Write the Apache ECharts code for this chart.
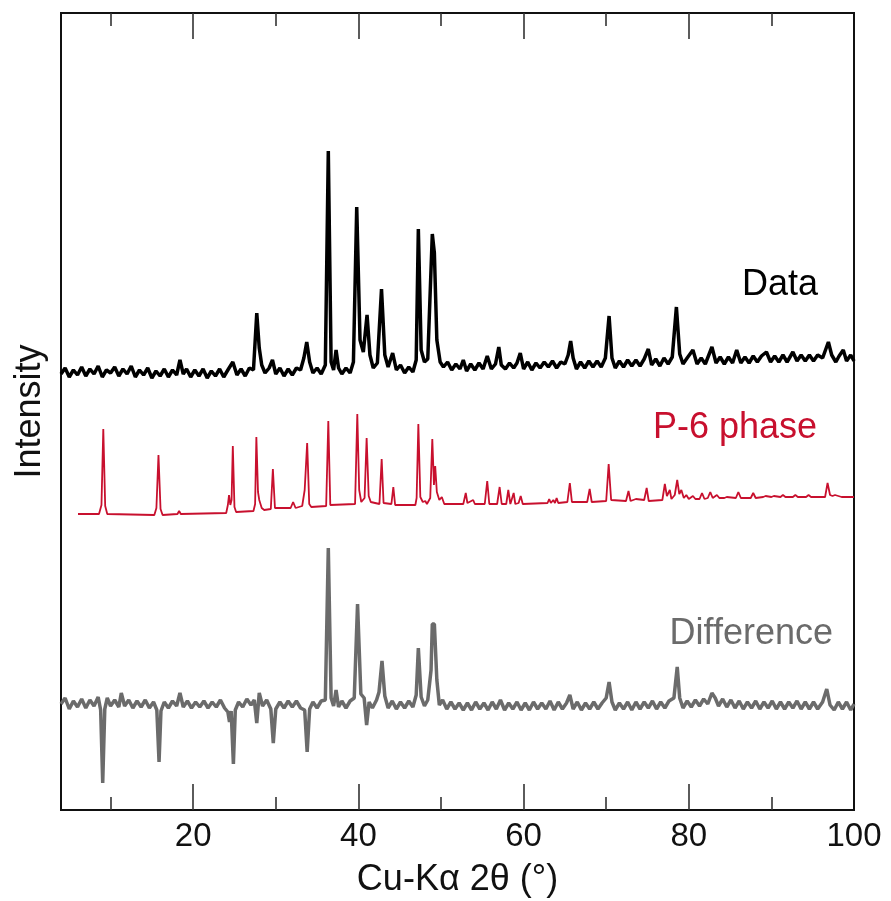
<!DOCTYPE html>
<html>
<head>
<meta charset="utf-8">
<title>XRD pattern</title>
<script src="https://cdn.jsdelivr.net/npm/echarts@6/dist/echarts.min.js"></script>
<style>
  html, body { margin: 0; padding: 0; background: #fff; }
  #chart { width: 891px; height: 901px; }
</style>
</head>
<body>
<div id="chart"></div>
<script>
// 2theta (deg), intensity (arbitrary, traces already offset)
var dataTrace = [
  [4.0,436],[4.5,442],[5.0,433],[5.5,440],[6.0,435],[6.5,443],[7.0,434],[7.5,441],[8.0,436],[8.5,444],
  [9.0,433],[9.5,440],[10.0,437],[10.5,443],[11.0,434],[11.5,441],[12.0,436],[12.5,444],[13.0,433],[13.5,440],
  [14.0,435],[14.5,442],[15.0,432],[15.5,439],[16.0,434],[16.5,441],[17.0,433],[17.5,440],[18.0,435],[18.4,450],
  [18.8,436],[19.2,441],[19.7,433],[20.2,440],[20.7,434],[21.2,441],[21.7,432],[22.2,439],[22.7,434],[23.2,441],
  [23.7,433],[24.2,440],[24.8,448],[25.3,435],[25.8,441],[26.3,434],[26.8,442],[27.3,440],[27.7,497],[28.0,462],
  [28.3,445],[28.7,437],[29.2,442],[29.6,450],[30.0,436],[30.5,442],[31.0,434],[31.5,441],[32.0,435],[32.5,442],
  [33.0,440],[33.4,452],[33.75,468],[34.1,448],[34.5,437],[35.0,442],[35.5,436],[36.0,445],[36.36,659],[36.7,448],
  [37.0,440],[37.3,460],[37.6,442],[38.0,436],[38.5,442],[39.0,437],[39.4,448],[39.8,603],[40.2,470],[40.6,458],
  [41.05,495],[41.4,455],[41.8,442],[42.3,447],[42.8,521],[43.2,455],[43.6,443],[44.15,457],[44.6,440],[45.1,445],
  [45.6,437],[46.1,443],[46.6,438],[47.0,450],[47.26,581],[47.6,460],[48.0,448],[48.4,451],[48.95,576],[49.2,557],
  [49.5,470],[49.9,448],[50.3,443],[50.8,448],[51.3,440],[51.8,446],[52.3,441],[52.7,450],[53.1,439],[53.6,446],
  [54.1,440],[54.6,447],[55.1,441],[55.6,454],[56.1,441],[56.6,446],[57.0,463],[57.3,445],[57.8,441],[58.3,447],
  [58.8,442],[59.2,447],[59.6,457],[60.0,441],[60.5,448],[61.0,440],[61.5,447],[62.0,442],[62.5,448],[63.0,443],
  [63.5,449],[64.0,442],[64.5,448],[65.0,446],[65.4,455],[65.7,469],[66.0,452],[66.4,441],[66.9,448],[67.4,442],
  [67.9,449],[68.4,443],[68.9,449],[69.4,443],[69.9,452],[70.35,494],[70.7,452],[71.1,442],[71.6,449],[72.1,443],
  [72.6,450],[73.1,444],[73.6,450],[74.1,444],[74.6,451],[75.1,461],[75.5,445],[76.0,451],[76.5,444],[77.0,452],
  [77.5,446],[78.0,453],[78.5,503],[78.9,456],[79.3,446],[79.8,452],[80.5,460],[81.0,446],[81.5,452],[82.0,446],
  [82.8,463],[83.3,447],[83.8,453],[84.3,446],[84.8,453],[85.3,447],[85.8,460],[86.3,447],[86.8,453],[87.3,447],
  [87.8,454],[88.3,448],[88.8,454],[89.4,458],[89.9,448],[90.4,454],[90.9,448],[91.4,455],[91.9,448],[92.6,458],
  [93.1,449],[93.6,455],[94.1,449],[94.6,455],[95.1,449],[95.6,455],[96.2,452],[96.9,468],[97.3,455],[97.8,448],
  [98.2,454],[98.7,460],[99.1,449],[99.6,455],[100,449]
];

var phaseTrace = [
  [6.06,296],[8.6,296],[8.9,305],[9.12,381],[9.35,304],[9.6,296],[15.3,295],[15.55,302],[15.8,355],[16.05,301],
  [16.3,295],[18.1,296],[18.3,299],[18.5,296],[24.0,297],[24.2,305],[24.34,315],[24.5,305],[24.65,310],[24.8,364],
  [25.0,303],[25.2,298],[27.3,299],[27.5,306],[27.65,373],[27.85,318],[28.0,310],[28.3,302],[28.6,300],[29.4,301],
  [29.65,341],[29.9,302],[31.8,302],[32.1,308],[32.4,302],[33.2,304],[33.5,320],[33.8,367],[34.05,306],[34.3,303],
  [36.1,304],[36.36,389],[36.6,305],[39.6,306],[39.87,396],[40.1,320],[40.35,308],[40.75,312],[41.0,372],[41.25,314],
  [41.5,308],[42.55,306],[42.82,351],[43.05,307],[44.0,306],[44.23,323],[44.45,305],[46.9,305],[47.05,312],[47.26,386],
  [47.5,313],[47.8,308],[48.1,309],[48.3,306],[48.7,312],[48.95,371],[49.15,325],[49.3,344],[49.5,318],[49.8,310],
  [50.1,313],[50.4,306],[52.7,306],[53.0,317],[53.2,307],[53.9,310],[54.1,306],[55.3,306],[55.6,329],[55.85,306],
  [56.8,306],[57.1,323],[57.35,306],[57.9,306],[58.15,320],[58.4,306],[58.6,307],[58.8,317],[59.0,306],[59.4,307],
  [59.65,314],[59.9,306],[62.9,307],[63.1,311],[63.3,307],[63.6,310],[63.8,307],[64.0,312],[64.2,307],[65.3,308],
  [65.6,327],[65.85,308],[67.7,308],[68.0,321],[68.25,308],[70.0,309],[70.3,346],[70.6,310],[72.4,309],[72.7,319],
  [72.95,309],[73.6,311],[74.6,310],[74.9,322],[75.15,309],[76.8,310],[77.1,326],[77.35,314],[77.7,320],[77.9,311],
  [78.3,315],[78.6,330],[78.85,316],[79.1,320],[79.4,312],[79.7,315],[80.0,311],[80.5,314],[80.8,311],[81.3,311],
  [81.6,317],[81.9,311],[82.3,312],[82.6,318],[82.9,312],[83.4,315],[83.7,312],[84.3,312],[84.6,313],[85.7,312],
  [86.0,318],[86.3,312],[87.5,312],[87.8,317],[88.1,312],[89.0,313],[89.3,314],[90.0,313],[90.3,314],[91.1,313],
  [91.4,315],[91.7,313],[92.6,313],[92.9,315],[93.2,313],[94.2,313],[94.5,315],[94.8,313],[96.5,313],[96.8,327],
  [97.1,315],[97.4,314],[97.7,315],[98.5,313],[98.8,313],[100,313]
];

var diffTrace = [
  [4.0,106],[4.5,112],[5.0,101],[5.5,109],[6.0,103],[6.5,111],[7.0,102],[7.5,110],[8.0,104],[8.5,113],
  [8.8,100],[9.05,27],[9.3,101],[9.6,112],[10.0,104],[10.5,110],[11.0,103],[11.3,117],[11.7,104],[12.2,110],
  [12.7,102],[13.2,109],[13.7,103],[14.2,110],[14.7,102],[15.2,108],[15.6,100],[15.87,48],[16.1,99],[16.5,108],
  [17.0,102],[17.5,109],[18.0,104],[18.4,117],[18.8,103],[19.3,109],[19.8,102],[20.3,108],[20.8,103],[21.3,109],
  [21.8,102],[22.3,108],[22.8,103],[23.3,110],[23.8,102],[24.2,98],[24.4,88],[24.6,99],[24.87,46],[25.1,100],
  [25.5,108],[26.0,103],[26.5,111],[27.0,105],[27.4,110],[27.7,87],[28.0,117],[28.4,104],[28.9,110],[29.4,101],
  [29.7,67],[30.0,101],[30.5,108],[31.0,102],[31.5,109],[32.0,103],[32.5,109],[33.0,102],[33.5,100],[33.8,58],
  [34.1,101],[34.5,108],[35.0,102],[35.5,109],[36.0,110],[36.36,262],[36.7,112],[37.0,104],[37.3,120],[37.6,103],
  [38.0,109],[38.5,102],[39.0,109],[39.5,112],[39.9,206],[40.3,116],[40.7,112],[41.0,85],[41.3,108],[41.7,102],
  [42.2,110],[42.5,118],[42.86,149],[43.2,114],[43.6,102],[44.1,109],[44.6,101],[45.1,108],[45.6,102],[46.1,109],
  [46.6,103],[47.0,115],[47.26,162],[47.6,113],[48.0,104],[48.4,110],[48.8,140],[48.95,186],[49.2,186],[49.5,130],
  [49.8,105],[50.2,110],[50.7,101],[51.2,108],[51.7,101],[52.2,107],[52.7,100],[53.2,107],[53.7,100],[54.2,108],
  [54.7,101],[55.2,107],[55.7,100],[56.2,108],[56.7,101],[57.2,110],[57.7,100],[58.2,107],[58.7,101],[59.2,108],
  [59.7,100],[60.2,107],[60.7,100],[61.2,108],[61.7,101],[62.2,107],[62.7,101],[63.2,109],[63.7,100],[64.2,108],
  [64.7,101],[65.2,107],[65.6,115],[66.0,101],[66.5,108],[67.0,100],[67.5,107],[68.0,101],[68.5,108],[69.0,101],
  [69.5,107],[70.0,112],[70.35,128],[70.7,108],[71.1,100],[71.6,107],[72.1,101],[72.6,108],[73.1,100],[73.6,108],
  [74.1,101],[74.6,108],[75.1,102],[75.6,109],[76.1,101],[76.6,108],[77.1,102],[77.6,109],[78.2,112],[78.6,143],
  [78.9,112],[79.3,102],[79.8,109],[80.3,103],[80.8,110],[81.3,104],[81.8,111],[82.3,106],[82.8,117],[83.2,112],
  [83.6,104],[84.1,111],[84.6,103],[85.1,110],[85.6,102],[86.1,109],[86.6,101],[87.1,108],[87.6,102],[88.1,109],
  [88.6,101],[89.1,108],[89.6,102],[90.1,109],[90.6,101],[91.1,108],[91.6,101],[92.1,108],[92.6,102],[93.1,109],
  [93.6,101],[94.1,108],[94.6,101],[95.1,108],[95.6,101],[96.2,108],[96.7,121],[97.1,105],[97.6,100],[98.1,108],
  [98.6,101],[99.1,108],[99.6,100],[100,106]
];

var majorTicks = [20, 40, 60, 80];
var minorTicks = [10, 30, 50, 70, 90];
var tickLabels = [20, 40, 60, 80, 100];

var red = '#c8102e';
var gray = '#6b6b6b';
var font = 'Liberation Sans, Arial, sans-serif';

var chart = echarts.init(document.getElementById('chart'), null, { renderer: 'canvas' });

function tickAxis(position, values, len) {
  return {
    type: 'value',
    position: position,
    min: 4,
    max: 100,
    axisLine: { show: false },
    splitLine: { show: false },
    axisLabel: { show: false },
    axisTick: {
      show: true,
      inside: true,
      length: len,
      customValues: values,
      lineStyle: { color: '#333', width: 1.6 }
    }
  };
}

var bottomAxis = tickAxis('bottom', majorTicks, 26);
bottomAxis.axisLabel = {
  show: true,
  customValues: tickLabels,
  margin: 10,
  fontSize: 33,
  fontFamily: font,
  color: '#111'
};
bottomAxis.name = 'Cu-K\u03b1 2\u03b8 (\u00b0)';
bottomAxis.nameLocation = 'middle';
bottomAxis.nameGap = 52;
bottomAxis.nameTextStyle = { fontSize: 36, fontFamily: font, color: '#111' };

var option = {
  animation: false,
  backgroundColor: '#fff',
  grid: {
    left: 61,
    right: 37,
    top: 13,
    bottom: 91,
    outerBoundsMode: 'none',
    show: true,
    borderColor: '#111',
    borderWidth: 2
  },
  xAxis: [
    bottomAxis,
    tickAxis('bottom', minorTicks, 13),
    tickAxis('top', majorTicks, 26),
    tickAxis('top', minorTicks, 13)
  ],
  yAxis: {
    type: 'value',
    min: 0,
    max: 797,
    axisLine: { show: false },
    axisTick: { show: false },
    axisLabel: { show: false },
    splitLine: { show: false },
    name: 'Intensity',
    nameLocation: 'middle',
    nameGap: 13,
    nameTextStyle: { fontSize: 36, fontFamily: font, color: '#111' }
  },
  series: [
    {
      name: 'Data',
      type: 'line',
      data: dataTrace,
      showSymbol: false,
      lineStyle: { color: '#000', width: 3.5 }
    },
    {
      name: 'P-6 phase',
      type: 'line',
      data: phaseTrace,
      showSymbol: false,
      lineStyle: { color: red, width: 1.8 }
    },
    {
      name: 'Difference',
      type: 'line',
      data: diffTrace,
      showSymbol: false,
      lineStyle: { color: gray, width: 3.5 }
    }
  ],
  graphic: [
    { type: 'text', right: 73, top: 267, style: { text: 'Data', fontSize: 36, fontFamily: font, fill: '#000' } },
    { type: 'text', right: 74, top: 410, style: { text: 'P-6 phase', fontSize: 36, fontFamily: font, fill: red } },
    { type: 'text', right: 58, top: 616, style: { text: 'Difference', fontSize: 36, fontFamily: font, fill: gray } }
  ]
};

chart.setOption(option);
</script>
</body>
</html>
